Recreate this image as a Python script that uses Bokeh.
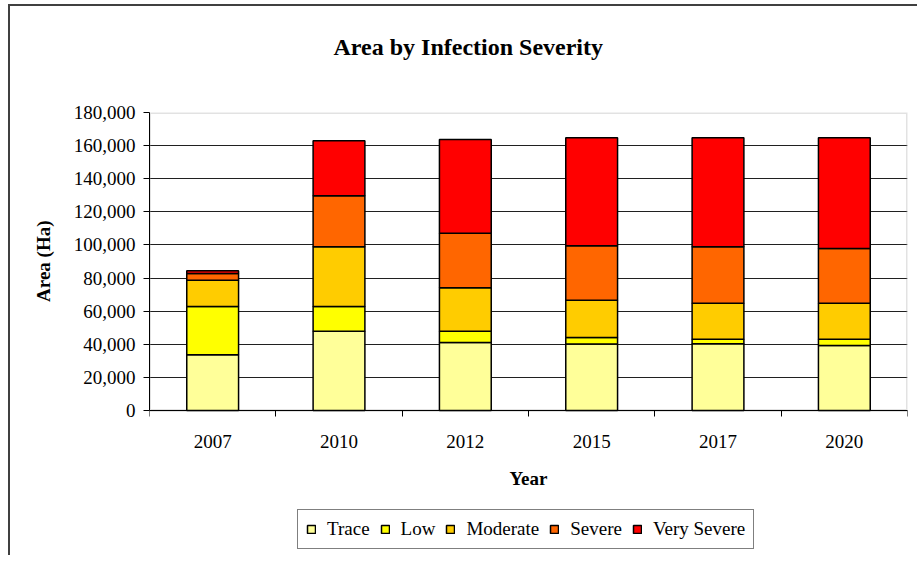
from bokeh.plotting import figure
from bokeh.models import (ColumnDataSource, FixedTicker, NumeralTickFormatter,
                          Legend, LegendItem, Title, BoxAnnotation)
from bokeh.embed import file_html
from bokeh.resources import INLINE

# Area (ha) per infection severity class, by survey year
years = ["2007", "2010", "2012", "2015", "2017", "2020"]
trace = [33600, 47900, 41100, 40100, 40300, 39300]
low = [29200, 14900, 6800, 4000, 2800, 3800]
moderate = [15900, 36100, 26200, 22500, 21700, 21700]
severe = [4000, 30800, 33000, 32900, 34100, 33000]
very_severe = [1700, 33200, 56600, 65200, 65800, 66900]

severity_names = ["Trace", "Low", "Moderate", "Severe", "Very Severe"]
severity_colors = ["#FFFF99", "#FFFF00", "#FFCC00", "#FF6600", "#FF0000"]

FONT = "Liberation Serif"
Y_MAX = 180000

# pixel layout: the value axis occupies the top 298 px of the frame,
# the remaining strip below y=0 holds the axis labels and the legend
PLOT_H = 298
FRAME_H = 443
y_min = -Y_MAX * (FRAME_H - PLOT_H) / PLOT_H

centers = [i + 0.5 for i in range(len(years))]
source = ColumnDataSource(data={
    "x": centers,
    "Trace": trace,
    "Low": low,
    "Moderate": moderate,
    "Severe": severe,
    "Very Severe": very_severe,
})

p = figure(frame_width=758, frame_height=FRAME_H,
           x_range=(0, len(years)), y_range=(y_min, Y_MAX),
           output_backend="svg", toolbar_location=None,
           min_border_left=139, min_border_right=10,
           min_border_top=106, min_border_bottom=0)
p.margin = (4, 0, 0, 8)
p.styles = {"border-top": "2px solid #404040", "border-left": "2px solid #404040"}

# grey border of the plotting area
p.add_layout(BoxAnnotation(left=0, right=len(years), bottom=0, top=Y_MAX,
                           fill_color=None, line_color="#A0A0A0", line_width=3,
                           level="underlay"))

renderers = p.vbar_stack(severity_names, x="x", width=0.41, source=source,
                         fill_color=severity_colors, line_color="black",
                         line_width=1.5)

# blank band between the frame and the title
p.add_layout(Title(text=" ", text_font_size="4px", standoff=46), "above")

# title
p.title.text = "Area by Infection Severity"
p.title.text_font = FONT
p.title.text_font_style = "bold"
p.title.text_font_size = "24px"
p.title.text_color = "black"
p.title.align = "left"
p.title.offset = 184
p.title.standoff = 0

# frame and grid
p.outline_line_color = None
p.xgrid.grid_line_color = None
p.ygrid.grid_line_color = "#202020"
p.ygrid.grid_line_width = 1
p.background_fill_color = "white"
p.border_fill_color = "white"

# y axis
p.yaxis.ticker = FixedTicker(ticks=list(range(0, Y_MAX + 1, 20000)))
p.yaxis.bounds = (0, Y_MAX)
p.yaxis.formatter = NumeralTickFormatter(format="0,0")
p.yaxis.axis_label = None
p.yaxis.major_label_text_font = FONT
p.yaxis.major_label_text_font_size = "19px"
p.yaxis.major_label_text_color = "black"
p.yaxis.major_label_standoff = 8
p.yaxis.major_tick_out = 6
p.yaxis.major_tick_in = 0
p.yaxis.minor_tick_line_color = None
p.yaxis.axis_line_color = "black"
p.yaxis.major_tick_line_color = "black"

# y-axis title, centred on the 0-180,000 span of the axis
p.add_layout(Title(text="Area (Ha)", text_font=FONT, text_font_style="bold",
                   text_font_size="19px", text_color="black",
                   align="right", offset=108, standoff=34), "left")

# x axis at y=0: year labels centred on bars, tick marks between categories
p.xaxis.fixed_location = 0
p.xaxis.ticker = FixedTicker(ticks=centers, minor_ticks=list(range(len(years) + 1)))
p.xaxis.major_label_overrides = {c: y for c, y in zip(centers, years)}
p.xaxis.axis_label = "Year"
p.xaxis.axis_label_text_font = FONT
p.xaxis.axis_label_text_font_style = "bold"
p.xaxis.axis_label_text_font_size = "19px"
p.xaxis.axis_label_text_color = "black"
p.xaxis.axis_label_standoff = 17
p.xaxis.major_label_text_font = FONT
p.xaxis.major_label_text_font_size = "19px"
p.xaxis.major_label_text_color = "black"
p.xaxis.major_label_standoff = 18
p.xaxis.major_tick_line_color = None
p.xaxis.major_tick_out = 0
p.xaxis.major_tick_in = 0
p.xaxis.minor_tick_line_color = "black"
p.xaxis.minor_tick_out = 6
p.xaxis.minor_tick_in = 0
p.xaxis.axis_line_color = "black"

# legend in the strip under the x-axis title
legend = Legend(
    items=[LegendItem(label=n, renderers=[r]) for n, r in zip(severity_names, renderers)],
    orientation="horizontal", location=(148, 6),
    border_line_color="black", border_line_width=1,
    background_fill_color="white", background_fill_alpha=1,
    label_text_font=FONT, label_text_font_size="19px", label_text_color="black",
    glyph_width=10, glyph_height=10, label_standoff=11, spacing=10,
    padding=8, margin=0,
)
p.add_layout(legend)

open("out.html", "w").write(file_html(p, INLINE))
